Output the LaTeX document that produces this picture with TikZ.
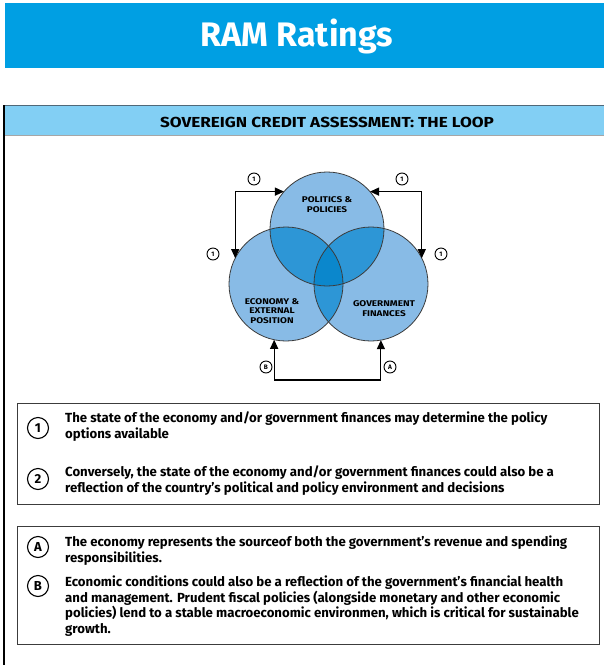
\documentclass[tikz,border=0pt]{standalone}
\usepackage{fontspec}
\setmainfont{Fira Sans}
\newfontfamily\headfont{Fira Sans}[FakeStretch=1.18]
\newfontfamily\vennfont{Fira Sans}[FakeStretch=1.2]
\usetikzlibrary{arrows.meta}
\definecolor{rambar}{HTML}{009FE3}
\definecolor{ramband}{HTML}{82CFF4}
\definecolor{bandrim}{HTML}{4F6878}
\definecolor{vennbase}{HTML}{88BBE6}
\definecolor{vennpair}{HTML}{2D96D6}
\definecolor{venntriple}{HTML}{0B87CC}
\definecolor{rimgray}{HTML}{3C3C3C}

\begin{document}
\begin{tikzpicture}[x=1pt, y=-1pt, font=\bfseries,
    vennring/.style={shape=circle, draw=rimgray, line width=0.8pt, minimum size=114pt, inner sep=0pt, outer sep=0pt},
    venntext/.style={align=center, inner sep=0pt, font=\vennfont\bfseries\fontsize{8.3}{9.8}\selectfont},
    tag/.style={shape=circle, draw=black, line width=0.9pt, inner sep=0pt, minimum size=12pt, font=\bfseries\fontsize{6.5}{7}\selectfont},
    bigtag/.style={shape=circle, draw=black, line width=1.1pt, inner sep=0pt, minimum size=21pt, font=\bfseries\fontsize{13}{13}\selectfont},
    note/.style={anchor=north west, inner sep=0pt, align=left, font=\bfseries\fontsize{13.2}{15.5}\selectfont},
    loop/.style={draw=black, line width=1.2pt, {Triangle[length=9pt,width=8pt]}-{Triangle[length=9pt,width=8pt]}}]
  \useasboundingbox (0,0) rectangle (604,665);
  % title bar
  \path[fill=rambar] (5,3) rectangle (604,68);
  \node[text=white, font=\bfseries\fontsize{34}{34}\selectfont] (title) at (297,36) {RAM Ratings};
  % panel and its heading band
  \path[fill=ramband] (5,106) rectangle (604,135);
  \path[draw=gray!70, line width=0.8pt] (5,135) -- (604,135);
  \path[draw=bandrim, line width=1.5pt] (4,105.5) -- (604,105.5);
  \path[draw=black, line width=1.5pt] (4,105) -- (4,665);
  \node[font=\headfont\bfseries\fontsize{14.5}{15}\selectfont] (head) at (327,122) {SOVEREIGN CREDIT ASSESSMENT: THE LOOP};
  % venn fills
  \coordinate (cPol) at (327,229);
  \coordinate (cEco) at (286,284);
  \coordinate (cGov) at (371,284);
  \foreach \c in {cPol, cEco, cGov}
    \fill[vennbase] (\c) circle[radius=57pt];
  \begin{scope}
    \clip (cPol) circle[radius=57pt];
    \fill[vennpair] (cEco) circle[radius=57pt];
    \fill[vennpair] (cGov) circle[radius=57pt];
  \end{scope}
  \begin{scope}
    \clip (cEco) circle[radius=57pt];
    \fill[vennpair] (cGov) circle[radius=57pt];
    \clip (cGov) circle[radius=57pt];
    \fill[venntriple] (cPol) circle[radius=57pt];
  \end{scope}
  \node[vennring] (pol) at (cPol) {};
  \node[vennring] (eco) at (cEco) {};
  \node[vennring] (gov) at (cGov) {};
  \node[venntext] (polText) at (327,205) {POLITICS \&\\POLICIES};
  \node[venntext] (ecoText) at (272,311) {ECONOMY \&\\EXTERNAL\\POSITION};
  \node[venntext] (govText) at (384,309) {GOVERNMENT\\FINANCES};
  % loops between the circles
  \path[loop] (pol.139) -| (eco.153);
  \path[loop] (pol.41) -| (gov.27);
  \coordinate (loopBase) at (327,380);
  \path[loop] (eco.258) -- (eco.258 |- loopBase) -| (gov.280);
  \node[tag] (tagL) at (254,179) {1};
  \node[tag] (tagR) at (402,179) {1};
  \node[tag] (tagLL) at (213,254) {1};
  \node[tag] (tagRR) at (441,254) {1};
  \node[tag] (tagB) at (266,367) {B};
  \node[tag] (tagA) at (390,367) {A};
  % notes
  \path[draw=rimgray, line width=1pt] (17,403) rectangle (599,504);
  \path[draw=rimgray, line width=1pt] (17,526) rectangle (599,644);
  \node[bigtag] (num1) at (38,428) {1};
  \node[note] (num1Text) at (65,412) {The state of the economy and/or government finances may determine the policy\\options available};
  \node[bigtag] (num2) at (38,479) {2};
  \node[note] (num2Text) at (65,466) {Conversely, the state of the economy and/or government finances could also be a\\reflection of the country's political and policy environment and decisions};
  \node[bigtag] (letA) at (38,547) {A};
  \node[note] (letAText) at (65,536) {The economy represents the sourceof both the government’s revenue and spending\\responsibilities.};
  \node[bigtag] (letB) at (38,586) {B};
  \node[note] (letBText) at (65,576) {Economic conditions could also be a reflection of the government’s financial health\\and management. Prudent fiscal policies (alongside monetary and other economic\\policies) lend to a stable macroeconomic environmen, which is critical for sustainable\\growth.};
\end{tikzpicture}
\end{document}
